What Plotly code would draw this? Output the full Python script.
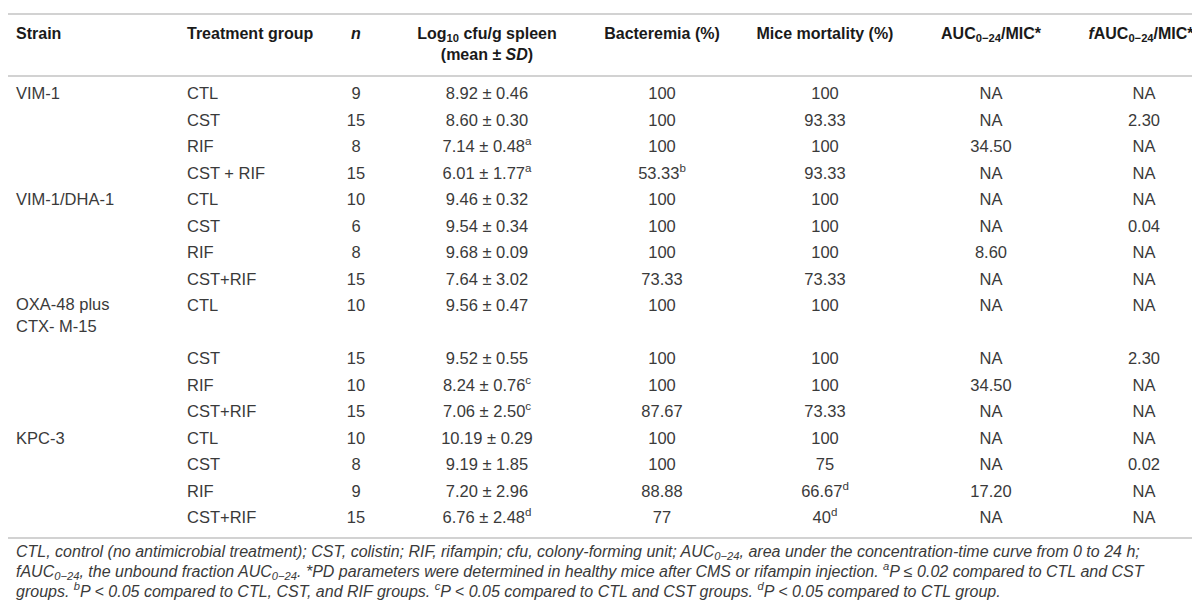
import numpy as np
import plotly.graph_objects as go

# table values
strain = ["VIM-1", "", "", "", "VIM-1/DHA-1", "", "", "", "OXA-48 plus<br>CTX- M-15", "", "", "",
          "KPC-3", "", "", ""]
group = ["CTL", "CST", "RIF", "CST + RIF", "CTL", "CST", "RIF", "CST+RIF", "CTL", "CST", "RIF", "CST+RIF",
         "CTL", "CST", "RIF", "CST+RIF"]
n_mice = [9, 15, 8, 15, 10, 6, 8, 15, 10, 15, 10, 15, 10, 8, 9, 15]
log_mean = ["8.92", "8.60", "7.14", "6.01", "9.46", "9.54", "9.68", "7.64", "9.56", "9.52", "8.24", "7.06",
            "10.19", "9.19", "7.20", "6.76"]
log_sd = ["0.46", "0.30", "0.48", "1.77", "0.32", "0.34", "0.09", "3.02", "0.47", "0.55", "0.76", "2.50",
          "0.29", "1.85", "2.96", "2.48"]
log_sig = ["", "", "a", "a", "", "", "", "", "", "", "c", "c", "", "", "", "d"]
bacteremia = ["100", "100", "100", "53.33", "100", "100", "100", "73.33", "100", "100", "100", "87.67",
              "100", "100", "88.88", "77"]
bact_sig = ["", "", "", "b", "", "", "", "", "", "", "", "", "", "", "", ""]
mortality = ["100", "93.33", "100", "93.33", "100", "100", "100", "73.33", "100", "100", "100", "73.33",
             "100", "75", "66.67", "40"]
mort_sig = ["", "", "", "", "", "", "", "", "", "", "", "", "", "", "d", "d"]
auc = ["NA", "NA", "34.50", "NA", "NA", "NA", "8.60", "NA", "NA", "NA", "34.50", "NA", "NA", "NA", "17.20", "NA"]
fauc = ["NA", "2.30", "NA", "NA", "NA", "0.04", "NA", "NA", "NA", "2.30", "NA", "NA", "NA", "0.02", "NA", "NA"]

headers = ["Strain", "Treatment group", "<i>n</i>", "Log<sub>10</sub> cfu/g spleen<br>(mean ± <i>SD</i>)",
           "Bacteremia (%)", "Mice mortality (%)", "AUC<sub>0−24</sub>/MIC*", "<i>f</i>AUC<sub>0−24</sub>/MIC*"]

footnote = [
    "CTL, control (no antimicrobial treatment); CST, colistin; RIF, rifampin; cfu, colony-forming unit; "
    "AUC<sub>0−24</sub>, area under the concentration-time curve from 0 to 24 h;",
    "fAUC<sub>0−24</sub>, the unbound fraction AUC<sub>0−24</sub>. *PD parameters were determined in healthy "
    "mice after CMS or rifampin injection. <sup>a</sup>P ≤ 0.02 compared to CTL and CST",
    "groups. <sup>b</sup>P &lt; 0.05 compared to CTL, CST, and RIF groups. <sup>c</sup>P &lt; 0.05 compared to "
    "CTL and CST groups. <sup>d</sup>P &lt; 0.05 compared to CTL group.",
]

# layout (pixel-like coordinates)
W, H = 1200, 603
col_x = [8, 179, 348, 479, 654, 817, 983, 1136]
head_x = [8, 179, 348, 479, 654, 817, 983, 1133]
col_pos = ["middle right", "middle right"] + ["middle center"] * 6
fs = 16.5
hfs = 16
first_row, step = 87, 26.5
units = np.ones(len(group))
units[8] = 2  # OXA row spans two lines
row_y = first_row + step * np.concatenate([[0], np.cumsum(units)[:-1]])
line_y = [6, 68, 530]
head_y = 27
foot_y = [545, 565, 585]

body_font = dict(family="Liberation Sans, Arial, sans-serif", size=fs, color="#3a3a3a")
head_font = dict(family="Liberation Sans, Arial, sans-serif", size=hfs, color="#1a1a1a")


def sup(vals, marks):
    return [v + ("<sup>%s</sup>" % m if m else "") for v, m in zip(vals, marks)]


columns = [
    strain,
    group,
    [str(v) for v in n_mice],
    [m + " ± " + s + ("<sup>%s</sup>" % g if g else "") for m, s, g in zip(log_mean, log_sd, log_sig)],
    sup(bacteremia, bact_sig),
    sup(mortality, mort_sig),
    auc,
    fauc,
]

fig = go.Figure()

for i, col in enumerate(columns):
    ys = [y + t.count("<br>") * 1.2 * fs / 2 for t, y in zip(col, row_y)]
    fig.add_trace(go.Scatter(x=[col_x[i]] * len(col), y=ys, text=col, mode="text",
                             textposition=col_pos[i], textfont=body_font, hoverinfo="skip",
                             cliponaxis=False, showlegend=False))

# header row
for i, h in enumerate(headers):
    nl = h.count("<br>")
    label = "<b>" + h.replace("<br>", "</b><br><b>") + "</b>"
    fig.add_trace(go.Scatter(x=[head_x[i]], y=[head_y + nl * 1.3 * hfs / 2], text=[label],
                             mode="text", textposition=col_pos[i], textfont=head_font,
                             hoverinfo="skip", cliponaxis=False, showlegend=False))

# footnote
fig.add_trace(go.Scatter(x=[8] * 3, y=foot_y, text=["<i>" + t + "</i>" for t in footnote], mode="text",
                         textposition="middle right",
                         textfont=dict(family="Liberation Sans, Arial, sans-serif", size=16, color="#3a3a3a"),
                         hoverinfo="skip", cliponaxis=False, showlegend=False))

for y in line_y:
    fig.add_shape(type="line", x0=0, x1=W, y0=y, y1=y, line=dict(color="#d2d2d2", width=2))

fig.update_xaxes(range=[0, W], visible=False, fixedrange=True)
fig.update_yaxes(range=[H, 0], visible=False, fixedrange=True)
fig.update_layout(width=W, height=H, margin=dict(l=0, r=0, t=0, b=0),
                  plot_bgcolor="white", paper_bgcolor="white")

fig.write_html("out.html")
